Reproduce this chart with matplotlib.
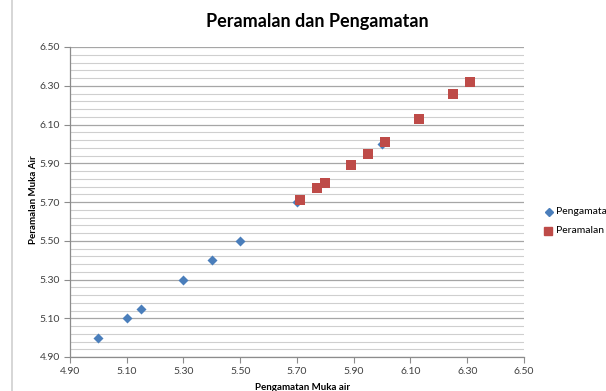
import matplotlib
matplotlib.use("Agg")
import matplotlib.pyplot as plt
from matplotlib.ticker import FixedLocator, FormatStrFormatter
from matplotlib.lines import Line2D
import numpy as np

plt.rcParams['font.family'] = ['Lato', 'DejaVu Sans']

title = "Peramalan dan Pengamatan"
xlabel = "Pengamatan Muka air"
ylabel = "Peramalan Muka Air"

ticks = [4.90, 5.10, 5.30, 5.50, 5.70, 5.90, 6.10, 6.30, 6.50]
tick_labels = ["4.90", "5.10", "5.30", "5.50", "5.70", "5.90", "6.10", "6.30", "6.50"]

peng_x = [5.00, 5.10, 5.15, 5.30, 5.40, 5.50, 5.70, 6.00]
peng_y = [5.00, 5.10, 5.15, 5.30, 5.40, 5.50, 5.70, 6.00]
peram_x = [5.71, 5.77, 5.80, 5.89, 5.95, 6.01, 6.13, 6.25, 6.31]
peram_y = [5.71, 5.77, 5.80, 5.89, 5.95, 6.01, 6.13, 6.26, 6.32]

W, H = 606, 391
fig = plt.figure(figsize=(W/100, H/100), dpi=100)
ax = fig.add_axes([70/W, 1-357/H, (524-70)/W, (357-47)/H])

ax.set_xlim(ticks[0], ticks[-1])
ax.set_ylim(ticks[0], ticks[-1])
ax.set_xticks(ticks)
ax.set_xticklabels(tick_labels)
ax.set_yticks(ticks)
ax.set_yticklabels(tick_labels)
minor = [ticks[0] + 0.04 * i for i in range(41)]
ax.yaxis.set_minor_locator(FixedLocator(minor))

ax.grid(True, which='major', axis='y', color='#a6a6a6', lw=0.9)
ax.grid(True, which='minor', axis='y', color='#cfcfcf', lw=0.8)
ax.grid(False, axis='x')
ax.set_axisbelow(True)
for s in ['top', 'right']:
    ax.spines[s].set_visible(False)
for s in ['left', 'bottom']:
    ax.spines[s].set_color('#8c8c8c')
    ax.spines[s].set_linewidth(0.9)
ax.tick_params(axis='both', which='major', direction='out', length=4, color='#8c8c8c',
               labelsize=7.5, labelcolor='#404040', pad=3)
ax.tick_params(axis='y', which='minor', length=0)

ax.scatter(peng_x, peng_y, marker='D', s=26, color='#4a7ebb', zorder=3, linewidths=0)
ax.scatter(peram_x, peram_y, marker='s', s=42, color='#be4b48', zorder=4, linewidths=0)

fig.text(317/W, 1-22/H, title, ha='center', va='center', fontsize=13, fontweight='bold', color='#000000')
fig.text(303/W, 1-388/H, xlabel, ha='center', va='center', fontsize=7, fontweight='bold', color='#000000')
fig.text(33/W, 1-200/H, ylabel, ha='center', va='center', rotation=90, fontsize=7, fontweight='bold', color='#000000')

# legend
fig.lines.append(Line2D([549/W], [1-212/H], marker='D', ms=4, color='#4a7ebb', lw=0, transform=fig.transFigure))
fig.text(556/W, 1-212/H, "Pengamata", ha='left', va='center', fontsize=7.5, color='#000000')
fig.lines.append(Line2D([548/W], [1-231/H], marker='s', ms=6, color='#be4b48', lw=0, transform=fig.transFigure))
fig.text(556/W, 1-231/H, "Peramalan", ha='left', va='center', fontsize=7.5, color='#000000')

# chart border line at left
fig.lines.append(Line2D([12/W, 12/W], [0, 1], color='#d0d0d0', lw=1.2, transform=fig.transFigure))

fig.savefig("out.png", dpi=100)
